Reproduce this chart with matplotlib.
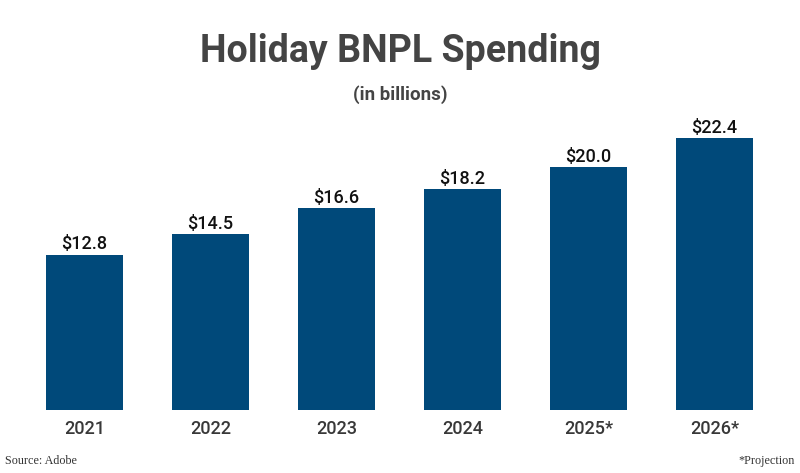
import matplotlib
matplotlib.use('Agg')
import matplotlib.pyplot as plt

# data
years = ['2021', '2022', '2023', '2024', '2025*', '2026*']
spending = [12.8, 14.5, 16.6, 18.2, 20.0, 22.4]
value_labels = ['$12.8', '$14.5', '$16.6', '$18.2', '$20.0', '$22.4']

bar_color = '#00497A'
plt.rcParams['font.family'] = ['Roboto', 'DejaVu Sans']

fig = plt.figure(figsize=(8, 4.73), dpi=100)
ax = fig.add_axes([21.5 / 800, 63 / 473, 756 / 800, 303.5 / 473])

x = list(range(len(years)))
bars = ax.bar(x, spending, width=0.61, color=bar_color)
for b, lab in zip(bars, value_labels):
    ax.annotate(lab, (b.get_x() + b.get_width() / 2, b.get_height()),
                xytext=(0, 1), textcoords='offset points',
                ha='center', va='bottom', fontsize=13, fontweight='medium',
                color='#111111')

ax.set_xlim(-0.5, 5.5)
ax.set_ylim(0, 25)
ax.set_xticks(x)
ax.set_xticklabels(years, fontsize=13, fontweight='medium', color='#383838')
ax.tick_params(axis='x', length=0, pad=7)
ax.set_yticks([])
for s in ax.spines.values():
    s.set_visible(False)

fig.text(0.5, 1 - 52 / 473, 'Holiday BNPL Spending', ha='center', va='center',
         fontsize=27, fontweight='bold', color='#444444')
fig.text(0.5, 1 - 95 / 473, '(in billions)', ha='center', va='center',
         fontsize=13.5, fontweight='bold', color='#444444')

fig.text(5 / 800, 1 - 461 / 473, 'Source: Adobe', ha='left', va='center',
         fontsize=8.7, family=['Liberation Serif'], color='#333333')
fig.text(795 / 800, 1 - 461 / 473, '*Projection', ha='right', va='center',
         fontsize=8.7, family=['Liberation Serif'], color='#333333')

fig.savefig('out.png', dpi=100)
